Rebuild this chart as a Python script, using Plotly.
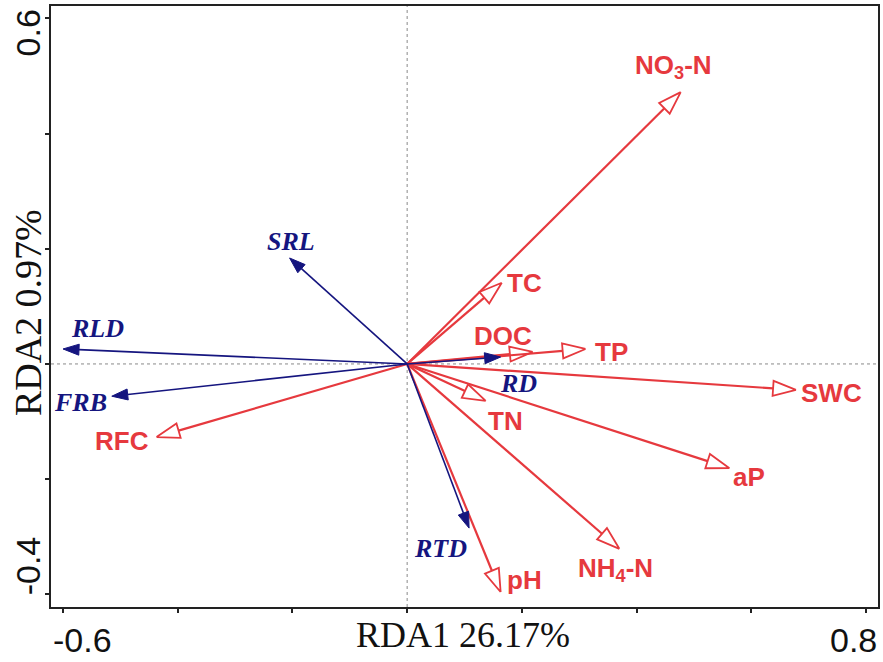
import math
import plotly.graph_objects as go

# ---------------- data ----------------
env_names = ["NO<sub>3</sub>-N", "TC", "DOC", "TP", "SWC", "aP", "NH<sub>4</sub>-N", "pH", "TN", "RFC"]
env_rda1 = [0.477, 0.165, 0.219, 0.311, 0.678, 0.562, 0.370, 0.163, 0.137, -0.437]
env_rda2 = [0.472, 0.141, 0.021, 0.026, -0.045, -0.181, -0.321, -0.396, -0.064, -0.127]

root_names = ["RLD", "FRB", "SRL", "RD", "RTD"]
root_rda1 = [-0.600, -0.515, -0.205, 0.163, 0.108]
root_rda2 = [0.026, -0.056, 0.184, 0.012, -0.285]

x_tick_values = [-0.6, -0.4, -0.2, 0.0, 0.2, 0.4, 0.6, 0.8]
y_tick_values = [-0.4, -0.2, 0.0, 0.2, 0.4, 0.6]
x_tick_labels = ["-0.6", "0.8"]
y_tick_labels = ["0.6", "-0.4"]
x_title = "RDA1 26.17%"
y_title = "RDA2 0.97%"

# ---------------- styling ----------------
RED = "#E6393E"
BLUE = "#15157F"
W, H = 883, 662
ML, MR, MT, MB = 51, 3, 6, 55
XR = [-0.621, 0.821]
YR = [-0.422, 0.6215]
PW, PH = W - ML - MR, H - MT - MB
SX = PW / (XR[1] - XR[0])
SY = PH / (YR[1] - YR[0])

# label offsets (pixels, x right / y up) relative to arrow tips
env_label_shift = [(-7, 26), (23, 0), (-30, 16), (26, -3), (36, -3),
                   (20, -9), (-4, -21), (24, 12), (20, -20), (-35, -4)]
root_label_shift = [(34, 20), (-31, -6), (1, 16), (18, -26), (-29, -20)]

fig = go.Figure()


def head_polygon(tx, ty, length, half_w):
    # work in pixel space, convert back to data units
    px, py = tx * SX, ty * SY
    d = math.hypot(px, py)
    ux, uy = px / d, py / d
    bx, by = px - ux * length, py - uy * length
    nx, ny = -uy, ux
    pts = [(px, py), (bx + nx * half_w, by + ny * half_w),
           (bx - nx * half_w, by - ny * half_w), (px, py)]
    base = (bx / SX, by / SY)
    return [p[0] / SX for p in pts], [p[1] / SY for p in pts], base


def add_arrow(tx, ty, color, lw, length, half_w, filled):
    hx, hy, base = head_polygon(tx, ty, length, half_w)
    fig.add_trace(go.Scatter(x=[0, base[0]], y=[0, base[1]], mode="lines",
                             line=dict(color=color, width=lw),
                             hoverinfo="skip", showlegend=False))
    fig.add_trace(go.Scatter(x=hx, y=hy, mode="lines",
                             line=dict(color=color, width=1.8 if not filled else 1),
                             fill="toself" if filled else "none",
                             fillcolor=color if filled else None,
                             hoverinfo="skip", showlegend=False))


for xv, yv in zip(env_rda1, env_rda2):
    add_arrow(xv, yv, RED, 2.2, 23, 7.5, False)
for xv, yv in zip(root_rda1, root_rda2):
    add_arrow(xv, yv, BLUE, 1.6, 16, 5.5, True)

annotations = []
for name, xv, yv, (dx, dy) in zip(env_names, env_rda1, env_rda2, env_label_shift):
    annotations.append(dict(x=xv, y=yv, xref="x", yref="y", text="<b>" + name + "</b>",
                            showarrow=False, xshift=dx, yshift=dy,
                            font=dict(family="Liberation Sans, Arial", size=26, color=RED)))
for name, xv, yv, (dx, dy) in zip(root_names, root_rda1, root_rda2, root_label_shift):
    annotations.append(dict(x=xv, y=yv, xref="x", yref="y", text="<b><i>" + name + "</i></b>",
                            showarrow=False, xshift=dx, yshift=dy,
                            font=dict(family="Liberation Serif, Times New Roman", size=26, color=BLUE)))

tick_font = dict(family="Liberation Sans, Arial", size=34, color="#111")
annotations.append(dict(x=float(x_tick_labels[0]), y=0, xref="x", yref="paper", text=x_tick_labels[0],
                        showarrow=False, xshift=19, yshift=-33, yanchor="middle", font=tick_font))
annotations.append(dict(x=float(x_tick_labels[1]), y=0, xref="x", yref="paper", text=x_tick_labels[1],
                        showarrow=False, xshift=-12, yshift=-33, yanchor="middle", font=tick_font))
annotations.append(dict(x=0, y=float(y_tick_labels[0]), xref="paper", yref="y", text=y_tick_labels[0],
                        showarrow=False, xshift=-23, yshift=-15, textangle=-90,
                        xanchor="center", font=tick_font))
annotations.append(dict(x=0, y=float(y_tick_labels[1]), xref="paper", yref="y", text=y_tick_labels[1],
                        showarrow=False, xshift=-23, yshift=28, textangle=-90,
                        xanchor="center", font=tick_font))
annotations.append(dict(x=0.498, y=0, xref="paper", yref="paper", text=x_title, showarrow=False,
                        yshift=-28, yanchor="middle",
                        font=dict(family="Liberation Serif, Times New Roman", size=36, color="#111")))
annotations.append(dict(x=0, y=0.489, xref="paper", yref="paper", text=y_title, showarrow=False,
                        xshift=-23, textangle=-90, xanchor="center",
                        font=dict(family="Liberation Serif, Times New Roman", size=38, color="#111")))

shapes = [
    dict(type="line", xref="x", yref="paper", x0=0, x1=0, y0=0, y1=1,
         line=dict(color="#8a8a8a", width=1, dash="dot"), layer="below"),
    dict(type="line", xref="paper", yref="y", x0=0, x1=1, y0=0, y1=0,
         line=dict(color="#8a8a8a", width=1, dash="dot"), layer="below"),
]

axis_common = dict(showgrid=False, zeroline=False, showline=True, linecolor="#222",
                   linewidth=2, mirror=True, ticks="outside", ticklen=4, tickwidth=1.5,
                   tickcolor="#222", showticklabels=False, fixedrange=True)

fig.update_layout(
    width=W, height=H, autosize=False,
    margin=dict(l=ML, r=MR, t=MT, b=MB, pad=0),
    plot_bgcolor="white", paper_bgcolor="white",
    xaxis=dict(range=XR, tickvals=x_tick_values, **axis_common),
    yaxis=dict(range=YR, tickvals=y_tick_values, **axis_common),
    annotations=annotations, shapes=shapes, showlegend=False,
)

fig.write_html("out.html", config={"displayModeBar": False},
               post_script="document.body.style.margin='0px';document.body.style.overflow='hidden';")
